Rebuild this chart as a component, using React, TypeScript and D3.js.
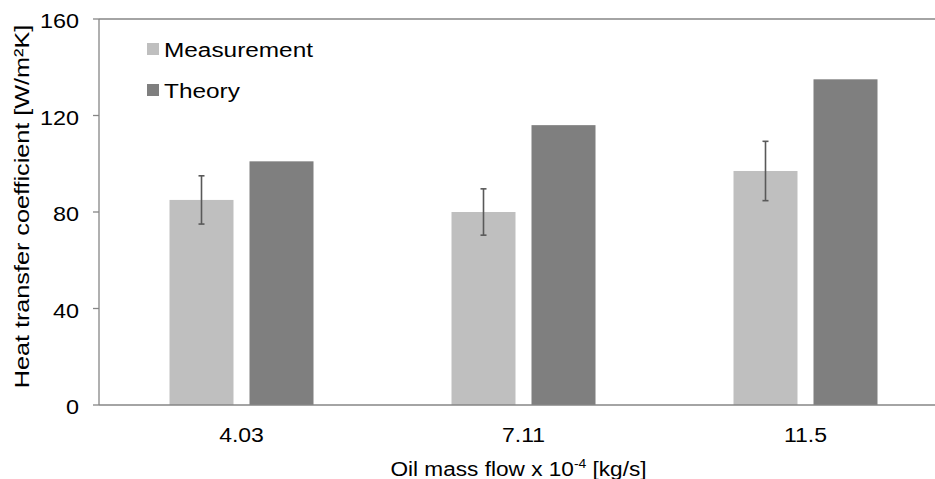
import React from "react";
import * as d3 from "d3";

const categories = ["4.03", "7.11", "11.5"];
const measurement = [85, 80, 97];
const measurementErr = [10, 9.6, 12.3];
const theory = [101, 116, 135];
const yTicks = [0, 40, 80, 120, 160];
const seriesNames = ["Measurement", "Theory"];
const seriesColors = ["#BFBFBF", "#7F7F7F"];

const W = 935;
const H = 479;

export default function App() {
  const x = d3.scaleBand<string>().domain(categories).range([100.5, 946.5]).paddingInner(0).paddingOuter(0);
  const y = d3.scaleLinear().domain([0, 160]).range([405, 19]);
  const barW = 64;
  const gap = 16;
  const font = "Liberation Sans, Arial, sans-serif";
  const axisColor = "#868686";
  const fs = 19.5;

  return (
    <svg width={W} height={H} style={{ position: "absolute", left: 0, top: 0, background: "#fff" }} fontFamily={font}>
      <rect x={0} y={0} width={W} height={H} fill="#fff" />
      <line x1={99} x2={W} y1={y(160)} y2={y(160)} stroke={axisColor} strokeWidth={1.3} />
      {categories.map((c, i) => {
        const cx = (x(c) as number) + x.bandwidth() / 2;
        const mx = cx - gap / 2 - barW;
        const tx = cx + gap / 2;
        const ex = mx + barW / 2;
        const eTop = y(measurement[i] + measurementErr[i]);
        const eBot = y(measurement[i] - measurementErr[i]);
        return (
          <g key={c}>
            <rect x={mx} y={y(measurement[i])} width={barW} height={y(0) - y(measurement[i])} fill={seriesColors[0]} />
            <rect x={tx} y={y(theory[i])} width={barW} height={y(0) - y(theory[i])} fill={seriesColors[1]} />
            <line x1={ex} x2={ex} y1={eTop} y2={eBot} stroke="#595959" strokeWidth={1.6} />
            <line x1={ex - 3} x2={ex + 3} y1={eTop} y2={eTop} stroke="#595959" strokeWidth={1.6} />
            <line x1={ex - 3} x2={ex + 3} y1={eBot} y2={eBot} stroke="#595959" strokeWidth={1.6} />
            <text transform={`translate(${cx}, 442) scale(1.18, 1)`} textAnchor="middle" fontSize={fs} fill="#000">{c}</text>
          </g>
        );
      })}
      <line x1={99} x2={99} y1={y(160)} y2={y(0)} stroke={axisColor} strokeWidth={1.3} />
      <line x1={99} x2={W} y1={y(0)} y2={y(0)} stroke={axisColor} strokeWidth={1.3} />
      {yTicks.map((t) => (
        <g key={t}>
          <line x1={93} x2={99} y1={y(t)} y2={y(t)} stroke={axisColor} strokeWidth={1.3} />
          <text transform={`translate(79, ${y(t) + 9}) scale(1.2, 1)`} textAnchor="end" fontSize={fs} fill="#000">{t}</text>
        </g>
      ))}
      {seriesNames.map((n, i) => (
        <g key={n}>
          <rect x={147} y={43 + i * 41} width={12} height={12} fill={seriesColors[i]} />
          <text transform={`translate(164, ${57 + i * 41}) scale(1.25, 1)`} fontSize={fs} fill="#000">{n}</text>
        </g>
      ))}
      <text transform={`translate(28.5, 206.5) rotate(-90) scale(1.2, 1)`} textAnchor="middle" fontSize={21} fill="#000">
        Heat transfer coefficient [W/m²K]
      </text>
      <text transform={`translate(518.5, 476) scale(1.16, 1)`} textAnchor="middle" fontSize={fs} fill="#000">
        Oil mass flow x 10<tspan dy={-8} fontSize={12}>-4</tspan><tspan dy={8}> [kg/s]</tspan>
      </text>
    </svg>
  );
}
